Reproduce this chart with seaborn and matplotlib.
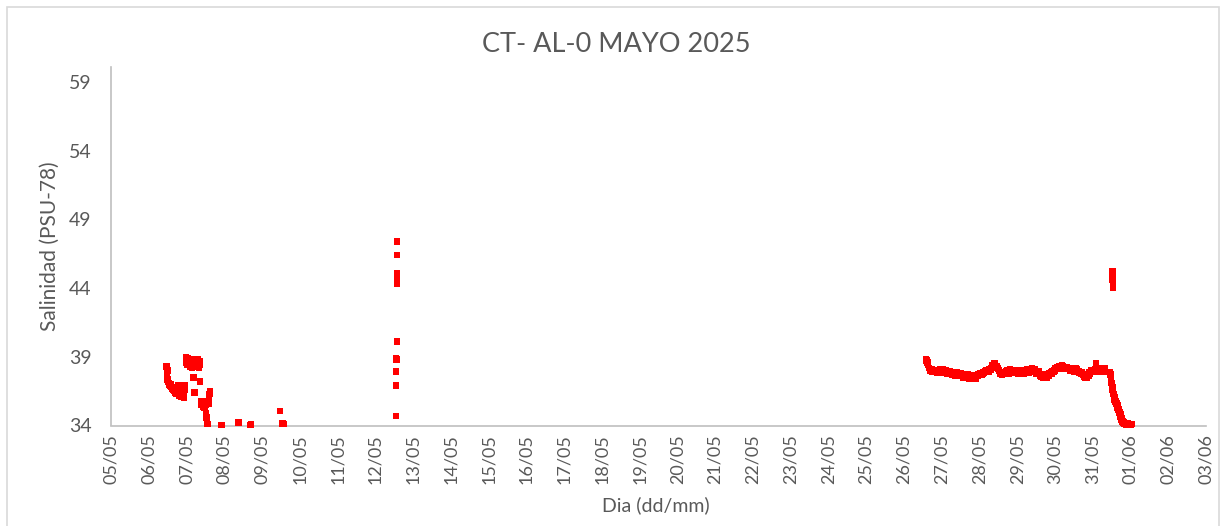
import numpy as np
import pandas as pd
import matplotlib
matplotlib.use("Agg")
import matplotlib.pyplot as plt
import matplotlib.dates as mdates
from matplotlib.patches import Rectangle
import seaborn as sns

# ---------------- data ----------------
title = "CT- AL-0 MAYO 2025"
x_label = "Dia (dd/mm)"
y_label = "Salinidad (PSU-78)"
y_ticks = [34, 39, 44, 49, 54, 59]
x_start = "2025-05-05"
x_end = "2025-06-03"

# early-May records (days since 05/05 00:00)
left_days = [1.47, 1.48, 1.49, 1.48, 1.49, 1.50, 1.51, 1.53, 1.54, 1.56, 1.57,
             1.60, 1.61, 1.64, 1.65, 1.68, 1.69, 1.72, 1.73, 1.76, 1.77, 1.80,
             1.81, 1.84, 1.85, 1.88, 1.89, 1.92, 1.93, 1.95, 1.96,
             1.99, 2.00, 2.02, 2.03, 2.05, 2.06, 2.08, 2.09, 2.11, 2.12, 2.14,
             2.15, 2.17, 2.18, 2.20, 2.21, 2.24, 2.25, 2.28, 2.29, 2.32, 2.33,
             2.35, 2.36, 2.18, 2.21, 2.36,
             2.38, 2.40, 2.42, 2.44, 2.46, 2.48, 2.50, 2.56, 2.58, 2.60, 2.61,
             2.62, 2.52, 2.53, 2.54, 2.55, 2.92, 3.37, 3.69, 3.71, 4.48, 4.54,
             4.57]
left_sal = [38.3, 38.15, 38.0, 37.6, 37.4, 37.3, 37.2, 37.1, 37.0, 36.9, 37.0,
            36.8, 36.7, 36.6, 36.8, 36.5, 36.4, 36.6, 36.3, 36.5, 36.9, 36.2,
            36.4, 36.3, 36.1, 36.7, 36.5, 36.2, 36.0, 36.9, 36.6,
            39.0, 38.6, 38.9, 38.4, 38.7, 38.5, 38.8, 38.3, 38.6, 38.4, 38.7,
            38.2, 38.5, 38.8, 38.6, 38.3, 38.7, 38.4, 38.5, 38.8, 38.6, 38.2,
            38.4, 38.7, 37.5, 36.4, 37.2,
            35.8, 35.5, 35.7, 35.4, 35.6, 35.3, 35.5, 35.8, 35.6, 36.0, 36.3,
            36.5, 34.9, 34.6, 34.3, 34.1, 34.05, 34.2, 34.05, 34.1, 35.05, 34.15,
            34.1]

# 12/05 spike
spike12_days = [7.57, 7.57, 7.57, 7.58, 7.58, 7.58, 7.58, 7.57, 7.55, 7.56,
                7.55, 7.55, 7.55]
spike12_sal = [47.4, 46.4, 45.1, 44.9, 44.7, 44.5, 44.3, 40.1, 38.9, 38.8,
               37.95, 36.9, 34.7]

# 26/05 - 31/05 plateau, 30-minute records
plateau_start = "2025-05-26 13:55"
plateau_sal = [38.85, 38.75, 38.6, 38.4, 38.2, 38.05, 38.0, 38.1, 37.95, 38.05,
               38.05, 37.9, 37.9, 38.05, 38.0, 37.85, 38.05, 37.95, 38.1, 37.9,
               37.95, 38.1, 38.0, 37.85, 37.85, 38.0, 37.9, 37.8, 37.95, 37.85, 37.8, 37.95,
               37.85, 37.7, 37.75, 37.9, 37.8, 37.65, 37.7, 37.85, 37.75, 37.65,
               37.7, 37.6, 37.65, 37.8, 37.6, 37.5, 37.7, 37.6, 37.55, 37.45, 37.6, 37.7,
               37.5, 37.4, 37.55, 37.65, 37.6, 37.45, 37.5, 37.65, 37.55, 37.4, 37.55, 37.6,
               37.65, 37.75, 37.7, 37.8, 37.8, 37.7, 37.75, 37.9, 37.85, 37.95, 37.9, 38.0,
               38.0, 37.9, 37.95, 38.1, 38.05, 38.2, 38.2, 38.35, 38.35, 38.5, 38.45, 38.3,
               38.3, 38.2, 38.1, 38.0, 37.9, 37.8, 37.8, 37.7, 37.75, 37.9, 37.85, 37.8,
               37.95, 38.05, 37.9, 37.8, 38.0, 38.1, 37.85, 37.95, 37.9, 38.05, 37.95, 37.85,
               37.9, 38.0, 37.85, 37.75, 37.95, 38.05, 38.0, 37.9, 37.9, 37.75, 37.8, 37.95,
               37.85, 38.0, 37.95, 38.1, 38.0, 37.85, 37.9, 38.0, 38.05, 38.2, 38.0, 37.9,
               38.0, 38.1, 37.9, 37.8, 37.85, 37.95, 37.75, 37.65, 37.7, 37.55, 37.6, 37.5,
               37.55, 37.7, 37.6, 37.45, 37.5, 37.65, 37.65, 37.8, 37.75, 37.85, 37.8, 37.95,
               37.9, 38.05, 38.0, 38.15, 38.1, 38.25, 38.2, 38.3, 38.25, 38.15, 38.2, 38.35,
               38.3, 38.2, 38.25, 38.1, 38.15, 38.25, 38.2, 38.1,
               38.1, 38.2, 38.0, 38.15, 38.2, 38.05, 38.05, 37.95, 38.0, 38.15, 38.1, 37.95,
               37.95, 37.85, 37.9, 37.8, 37.85, 37.75,
               37.7, 37.6, 37.55, 37.45, 37.6, 37.5, 37.75, 37.65, 37.9, 37.8, 38.0, 37.95,
               38.05, 37.95, 38.0, 38.1, 38.1, 37.95, 37.95, 38.1, 38.0, 37.9, 38.15, 38.05,
               38.05, 37.95, 38.1, 38.2, 38.0, 37.9]
outlier_days = [26.09]
outlier_sal = [38.54]

# 31/05 drop
drop_days = [26.46, 26.47, 26.48, 26.49, 26.50, 26.51, 26.52, 26.53, 26.54,
             26.55, 26.56, 26.57, 26.58, 26.59, 26.60, 26.61, 26.62, 26.63,
             26.64, 26.65, 26.66, 26.67, 26.68, 26.69, 26.70, 26.71, 26.72,
             26.73, 26.74, 26.75, 26.76, 26.77, 26.78, 26.79, 26.80, 26.82,
             26.84, 26.86, 26.88, 26.90, 26.92, 26.94, 26.96, 26.98, 27.00,
             27.02, 27.04]
drop_sal = [37.9, 37.7, 37.5, 37.3, 37.1, 36.95, 36.8, 36.6, 36.45,
            36.3, 36.2, 36.05, 35.9, 36.0, 35.8, 35.7, 35.55, 35.65,
            35.45, 35.5, 35.3, 35.35, 35.15, 35.2, 35.0, 34.95, 34.8,
            34.85, 34.65, 34.55, 34.45, 34.5, 34.35, 34.3, 34.2, 34.25,
            34.1, 34.15, 34.05, 34.1, 34.15, 34.05, 34.1, 34.05, 34.1,
            34.05, 34.1]

# 31/05 spike
spike31_days = [26.53, 26.53, 26.53, 26.53, 26.54, 26.54, 26.54]
spike31_sal = [45.2, 45.0, 44.8, 44.6, 44.4, 44.2, 44.05]

# ---------------- build frame ----------------
base = pd.Timestamp(x_start)
def to_time(days):
    return base + pd.to_timedelta(np.asarray(days, dtype=float), unit="D")

plateau_time = pd.date_range(plateau_start, periods=len(plateau_sal), freq="30min")
df = pd.concat([
    pd.DataFrame({"t": to_time(left_days), "sal": left_sal}),
    pd.DataFrame({"t": to_time(spike12_days), "sal": spike12_sal}),
    pd.DataFrame({"t": plateau_time, "sal": plateau_sal}),
    pd.DataFrame({"t": to_time(outlier_days), "sal": outlier_sal}),
    pd.DataFrame({"t": to_time(drop_days), "sal": drop_sal}),
    pd.DataFrame({"t": to_time(spike31_days), "sal": spike31_sal}),
], ignore_index=True)

# ---------------- plot ----------------
sns.set_theme(style="white")
plt.rcParams["font.family"] = ["Lato", "DejaVu Sans"]

W, H = 1226, 526
fig = plt.figure(figsize=(W / 100, H / 100), dpi=100)
left_px, right_px, top_px, bot_px = 111, 1206, 67, 425.5
ax = fig.add_axes([left_px / W, 1 - bot_px / H, (right_px - left_px) / W, (bot_px - top_px) / H])

sns.scatterplot(data=df, x="t", y="sal", ax=ax, marker="s", s=22,
                color="#FF0000", edgecolor="none", linewidth=0, clip_on=False,
                legend=False, zorder=3)

ax.set_xlim(pd.Timestamp(x_start), pd.Timestamp(x_end))
ax.xaxis.set_major_locator(mdates.DayLocator())
ax.xaxis.set_major_formatter(mdates.DateFormatter("%d/%m"))
ax.set_ylim(34, 60.1)
ax.set_yticks(y_ticks)

grey = "#595959"
for s in ["top", "right"]:
    ax.spines[s].set_visible(False)
for s in ["left", "bottom"]:
    ax.spines[s].set_color("#BFBFBF")
    ax.spines[s].set_linewidth(1.2)
ax.tick_params(axis="both", length=0, colors=grey)
ax.tick_params(axis="y", pad=14, labelsize=14)
ax.tick_params(axis="x", pad=6, labelsize=13)
for lab in ax.get_xticklabels():
    lab.set_rotation(90)
ax.set_xlabel("")
ax.set_ylabel("")
ax.grid(False)

fig.text(616 / W, 1 - 45 / H, title, ha="center", va="center", fontsize=19.5, color=grey)
fig.text(50 / W, 1 - 246 / H, y_label, ha="center", va="center", rotation=90, fontsize=15, color=grey)
fig.text(656 / W, 1 - 505 / H, x_label, ha="center", va="center", fontsize=14, color=grey)

fig.add_artist(Rectangle((6.5 / W, -0.05), (1219 - 6.5) / W, 1 - 6.5 / H + 0.05,
                         transform=fig.transFigure, fill=False, edgecolor="#D9D9D9",
                         linewidth=1.2))

fig.savefig("out.png", dpi=100, facecolor="white")
